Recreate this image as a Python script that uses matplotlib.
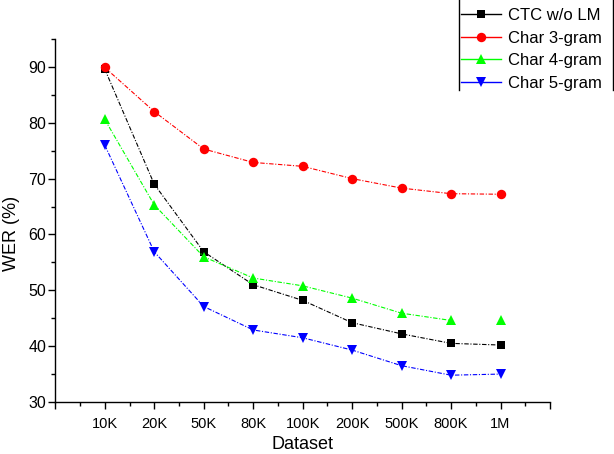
import matplotlib
matplotlib.use("Agg")
import matplotlib.pyplot as plt
from matplotlib.lines import Line2D
from matplotlib.ticker import MultipleLocator

plt.rcParams['font.family'] = ['Liberation Sans', 'DejaVu Sans']

datasets = ["10K", "20K", "50K", "80K", "100K", "200K", "500K", "800K", "1M"]
ctc_no_lm = [89.6, 69.0, 56.9, 51.0, 48.2, 44.2, 42.2, 40.5, 40.2]
char3 = [89.9, 82.0, 75.3, 72.9, 72.2, 70.0, 68.3, 67.3, 67.2]
char4 = [80.6, 65.3, 56.0, 52.2, 50.8, 48.6, 45.9, 44.6, 44.6]
char5 = [76.0, 56.9, 47.1, 42.9, 41.5, 39.3, 36.5, 34.8, 35.0]

fig = plt.figure(figsize=(6.14, 4.54), dpi=100)
ax = fig.add_axes([55.3 / 614, 1 - 402 / 454, (550 - 55.3) / 614, (402 - 39) / 454])

x = list(range(1, len(datasets) + 1))
dash = (0, (4, 1.5, 1, 1.5))

series = [
    ("CTC w/o LM", ctc_no_lm, "#000000", "s", 5.5, len(x)),
    ("Char 3-gram", char3, "#FF0000", "o", 6.8, len(x)),
    ("Char 4-gram", char4, "#00FF00", "^", 7.5, len(x) - 1),
    ("Char 5-gram", char5, "#0000FF", "v", 7.5, len(x)),
]
handles = []
for label, vals, col, mk, ms, nline in series:
    ax.plot(x[:nline], vals[:nline], color=col, lw=0.8, ls=dash)
    ax.plot(x, vals, ls='none', marker=mk, ms=ms, color=col, mec=col, mew=0)
    handles.append(Line2D([], [], color=col, lw=1.0, marker=mk, ms=ms, mec=col, mew=0, label=label))

ax.set_xlim(0, 10)
ax.set_ylim(30, 95)
ax.set_xticks(range(0, 11))
ax.set_xticklabels([""] + datasets + [""])
ax.xaxis.set_minor_locator(MultipleLocator(0.5))
ax.set_yticks(range(30, 91, 10))
ax.yaxis.set_minor_locator(MultipleLocator(5))

for s in ("top", "right"):
    ax.spines[s].set_visible(False)
for s in ("left", "bottom"):
    ax.spines[s].set_linewidth(1.0)

ax.tick_params(axis='both', which='major', direction='out', length=5, width=1.0, labelsize=10.5)
ax.tick_params(axis='y', which='major', labelsize=11.5)
ax.tick_params(axis='both', which='minor', direction='out', length=3, width=1.0)
ax.tick_params(axis='y', which='major', pad=1.5)
ax.tick_params(axis='x', which='major', pad=6)

ax.set_ylabel("WER (%)", fontsize=13)
ax.yaxis.set_label_coords(-0.072, 1 - (233 - 39) / 363)
ax.set_xlabel("Dataset", fontsize=13, va='bottom')
ax.xaxis.set_label_coords(0.5, -(453 - 402) / 363)

leg = fig.legend(handles=handles, loc='upper left', bbox_to_anchor=(461 / 614, 1 - 8 / 454),
                 frameon=False, fontsize=12, handlelength=2.4, handletextpad=0.4,
                 labelspacing=0.46, borderpad=0, borderaxespad=0)

for xv in (459, 613):
    fig.add_artist(Line2D([xv / 614, xv / 614], [1, 1 - 90 / 454], transform=fig.transFigure,
                          color='black', lw=1.0))

fig.savefig("out.png", dpi=100)
